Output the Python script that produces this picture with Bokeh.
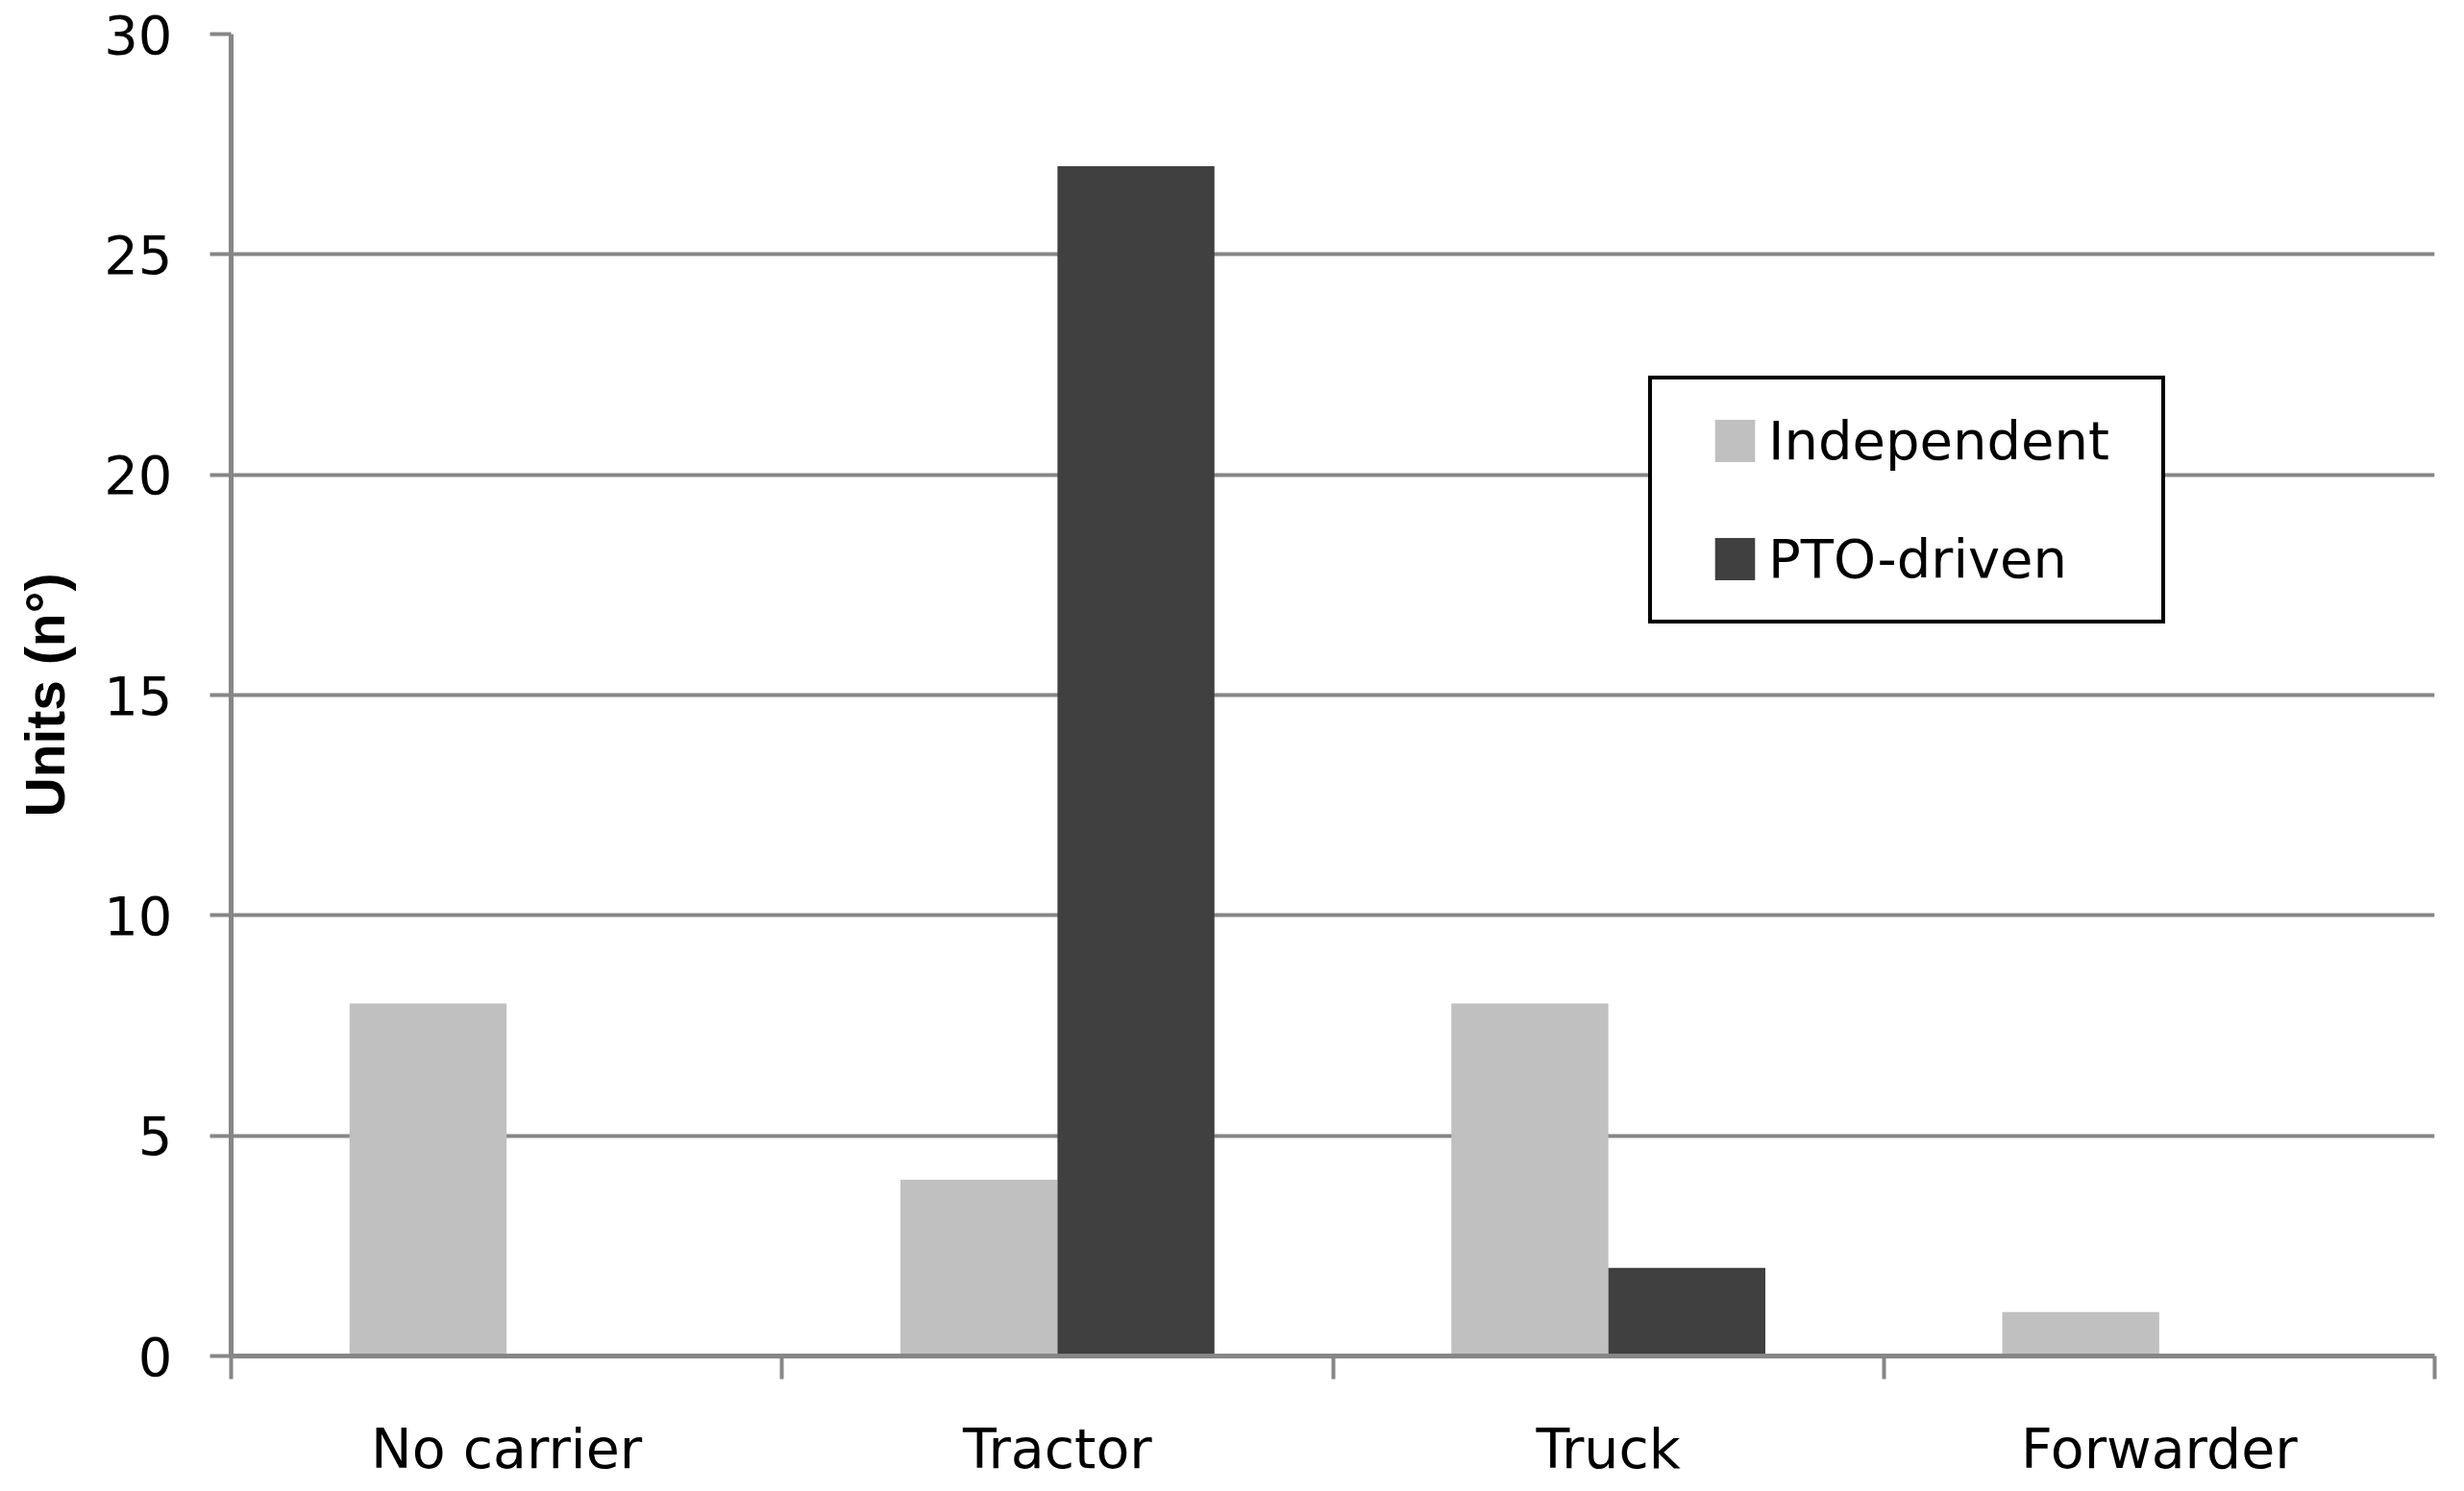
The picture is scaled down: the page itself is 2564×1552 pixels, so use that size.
from bokeh.plotting import figure
from bokeh.models import Range1d, FixedTicker, Legend, LegendItem
from bokeh.embed import file_html
from bokeh.resources import INLINE

categories = ["No carrier", "Tractor", "Truck", "Forwarder"]
independent = [8, 4, 8, 1]
pto_driven = [0, 27, 2, 0]
y_ticks = [0, 5, 10, 15, 20, 25, 30]

GRAY = "#868686"
BAR_W = 0.285
OFF = 0.1425

p = figure(width=2548, height=1544, x_range=Range1d(0, len(categories)), y_range=Range1d(0, 30),
           output_backend="svg", toolbar_location=None,
           min_border_left=240, min_border_top=35, min_border_right=15, min_border_bottom=133)
p.outline_line_color = None
p.background_fill_color = "white"
p.border_fill_color = "white"

xs = list(range(len(categories)))
r1 = p.vbar(x=[i + 0.5 - OFF for i in xs], top=independent, width=BAR_W, bottom=0,
            fill_color="#C0C0C0", line_color=None)
r2 = p.vbar(x=[i + 0.5 + OFF for i in xs], top=pto_driven, width=BAR_W, bottom=0,
            fill_color="#404040", line_color=None)

# grid
p.xgrid.visible = False
p.ygrid.ticker = FixedTicker(ticks=y_ticks)
p.ygrid.grid_line_color = GRAY
p.ygrid.grid_line_width = 4

# y axis
ya = p.yaxis[0]
ya.ticker = FixedTicker(ticks=y_ticks)
ya.axis_line_color = GRAY
ya.axis_line_width = 5
ya.major_tick_line_color = GRAY
ya.major_tick_line_width = 4
ya.major_tick_out = 22
ya.major_tick_in = 0
ya.minor_tick_out = 0
ya.minor_tick_in = 0
ya.major_label_text_font = "DejaVu Sans"
ya.major_label_text_font_size = "56px"
ya.major_label_text_color = "black"
ya.major_label_standoff = 39
ya.axis_label = "Units (n°)"
ya.axis_label_text_font = "Liberation Sans"
ya.axis_label_text_font_style = "bold"
ya.axis_label_text_font_size = "57px"
ya.axis_label_text_color = "black"
ya.axis_label_standoff = 26

# x axis
xa = p.xaxis[0]
centers = [i + 0.5 for i in xs]
bounds = list(range(len(categories) + 1))
xa.ticker = FixedTicker(ticks=centers, minor_ticks=bounds)
xa.major_label_overrides = {c: name for c, name in zip(centers, categories)}
xa.axis_line_color = GRAY
xa.axis_line_width = 5
xa.major_tick_out = 0
xa.major_tick_in = 0
xa.minor_tick_out = 24
xa.minor_tick_in = 0
xa.minor_tick_line_color = GRAY
xa.minor_tick_line_width = 4
xa.major_label_text_font = "DejaVu Sans"
xa.major_label_text_font_size = "57px"
xa.major_label_text_color = "black"
xa.major_label_standoff = 39

legend = Legend(items=[LegendItem(label="Independent", renderers=[r1]),
                       LegendItem(label="PTO-driven", renderers=[r2])],
                location=(1475, 762))
legend.border_line_color = "black"
legend.border_line_width = 4.5
legend.border_line_alpha = 1.0
legend.background_fill_color = "white"
legend.background_fill_alpha = 1
legend.padding = 31
legend.spacing = 58
legend.margin = 0
legend.glyph_width = 52
legend.glyph_height = 55
legend.label_standoff = 9
legend.label_height = 64
legend.label_width = 378
legend.label_text_font = "DejaVu Sans"
legend.label_text_font_size = "56px"
legend.label_text_color = "black"
legend.title = " "
legend.title_location = "left"
legend.title_text_font_size = "1px"
legend.title_standoff = 28
p.add_layout(legend, "center")

open("out.html", "w").write(file_html(p, INLINE))
